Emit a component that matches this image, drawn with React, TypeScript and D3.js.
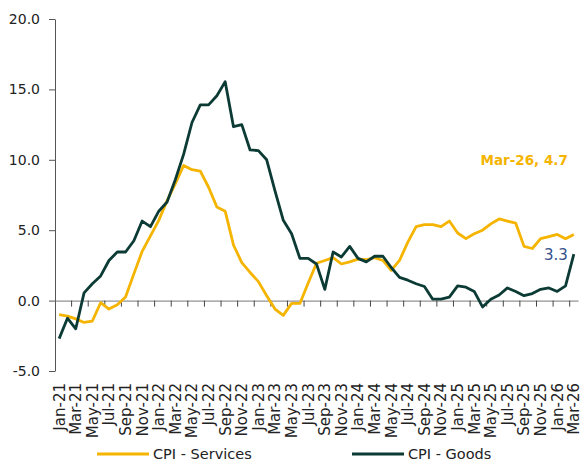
import React, { useEffect, useRef } from "react";
import * as d3 from "d3";

const months = [
  "Jan-21", "Feb-21", "Mar-21", "Apr-21", "May-21", "Jun-21", "Jul-21", "Aug-21", "Sep-21", "Oct-21", "Nov-21", "Dec-21",
  "Jan-22", "Feb-22", "Mar-22", "Apr-22", "May-22", "Jun-22", "Jul-22", "Aug-22", "Sep-22", "Oct-22", "Nov-22", "Dec-22",
  "Jan-23", "Feb-23", "Mar-23", "Apr-23", "May-23", "Jun-23", "Jul-23", "Aug-23", "Sep-23", "Oct-23", "Nov-23", "Dec-23",
  "Jan-24", "Feb-24", "Mar-24", "Apr-24", "May-24", "Jun-24", "Jul-24", "Aug-24", "Sep-24", "Oct-24", "Nov-24", "Dec-24",
  "Jan-25", "Feb-25", "Mar-25", "Apr-25", "May-25", "Jun-25", "Jul-25", "Aug-25", "Sep-25", "Oct-25", "Nov-25", "Dec-25",
  "Jan-26", "Feb-26", "Mar-26",
];

const services = [
  -1.0, -1.1, -1.3, -1.55, -1.45, -0.15, -0.6, -0.3, 0.25, 1.9, 3.5, 4.6,
  5.7, 7.1, 8.3, 9.6, 9.3, 9.2, 8.05, 6.65, 6.35, 3.95, 2.7, 2.0,
  1.35, 0.35, -0.6, -1.05, -0.2, -0.2, 1.25, 2.65, 2.85, 3.05, 2.6, 2.75,
  2.95, 2.9, 3.05, 2.85, 2.15, 2.85, 4.15, 5.25, 5.4, 5.4, 5.25, 5.65,
  4.8, 4.4, 4.75, 5.0, 5.45, 5.8, 5.65, 5.5, 3.85, 3.7, 4.4, 4.55,
  4.7, 4.4, 4.7,
];

const goods = [
  -2.7, -1.25, -2.0, 0.55, 1.2, 1.75, 2.85, 3.45, 3.45, 4.25, 5.65, 5.25,
  6.35, 7.0, 8.6, 10.4, 12.65, 13.9, 13.9, 14.55, 15.55, 12.35, 12.5, 10.7,
  10.65, 10.0, 7.8, 5.7, 4.75, 3.0, 3.0, 2.6, 0.8, 3.45, 3.1, 3.85,
  3.0, 2.75, 3.15, 3.15, 2.35, 1.65, 1.45, 1.2, 1.0, 0.1, 0.1, 0.25,
  1.05, 0.95, 0.65, -0.45, 0.1, 0.4, 0.9, 0.65, 0.35, 0.5, 0.8, 0.9,
  0.65, 1.05, 3.3,
];

const yTicks = [-5, 0, 5, 10, 15, 20];

const GOLD = "#f5b400";
const DARK = "#0c3b35";
const FONT = "DejaVu Sans, sans-serif";

const App: React.FC = () => {
  const svgRef = useRef<SVGSVGElement>(null);

  useEffect(() => {
    if (!svgRef.current) return;
    const width = 582;
    const height = 463;
    const margin = { top: 19, right: 4, bottom: 92, left: 55 };

    const svg = d3.select(svgRef.current).attr("width", width).attr("height", height);
    svg.selectAll("*").remove();

    const x = d3
      .scaleBand<string>()
      .domain(months)
      .range([margin.left, width - margin.right])
      .paddingInner(0)
      .paddingOuter(0);
    const cx = (m: string) => (x(m) || 0) + x.bandwidth() / 2;

    const y = d3
      .scaleLinear()
      .domain([-5, 20])
      .range([height - margin.bottom, margin.top]);

    // y axis
    const yAxis = svg
      .append("g")
      .attr("transform", `translate(${margin.left},0)`)
      .call(
        d3
          .axisLeft(y)
          .tickValues(yTicks)
          .tickSize(6)
          .tickSizeOuter(0)
          .tickFormat((d) => (d as number).toFixed(1))
      );
    yAxis.select(".domain").attr("stroke", "#555");
    yAxis.selectAll(".tick line").attr("stroke", "#555");
    yAxis
      .selectAll(".tick text")
      .attr("fill", "#222")
      .attr("font-family", FONT)
      .attr("font-size", 14)
      .attr("x", -15);

    // zero line with category ticks
    const zeroAxis = svg
      .append("g")
      .attr("transform", `translate(0,${y(0)})`)
      .call(
        d3
          .axisBottom(x)
          .tickValues(months.filter((_, i) => i > 0 && i % 2 === 0))
          .tickSize(6)
          .tickSizeOuter(0)
          .tickFormat(() => "")
      );
    zeroAxis.select(".domain").attr("stroke", "#777");
    zeroAxis
      .selectAll(".tick")
      .attr("transform", (d) => `translate(${x(d as string)},0)`);
    zeroAxis.selectAll(".tick line").attr("stroke", "#444");

    // category labels at bottom
    svg
      .append("g")
      .selectAll("text")
      .data(months.filter((_, i) => i % 2 === 0))
      .join("text")
      .attr("transform", (d) => `translate(${cx(d)},${383}) rotate(-90)`)
      .attr("text-anchor", "end")
      .attr("dy", "0.36em")
      .attr("font-family", FONT)
      .attr("font-size", 15)
      .attr("fill", "#222")
      .text((d) => d);

    const line = d3
      .line<number>()
      .x((_, i) => cx(months[i]))
      .y((d) => y(d));

    svg
      .append("path")
      .datum(services)
      .attr("fill", "none")
      .attr("stroke", GOLD)
      .attr("stroke-width", 2.8)
      .attr("stroke-linejoin", "round")
      .attr("d", line);

    svg
      .append("path")
      .datum(goods)
      .attr("fill", "none")
      .attr("stroke", DARK)
      .attr("stroke-width", 2.8)
      .attr("stroke-linejoin", "round")
      .attr("d", line);

    // end labels
    const last = months.length - 1;
    svg
      .append("text")
      .attr("x", cx(months[last]) - 6)
      .attr("y", y(services[last]) - 69)
      .attr("text-anchor", "end")
      .attr("font-family", FONT)
      .attr("font-size", 13.5)
      .attr("font-weight", 600)
      .attr("fill", GOLD)
      .text(`${months[last]}, ${services[last]}`);

    svg
      .append("text")
      .attr("x", cx(months[last]) - 6)
      .attr("y", y(goods[last]) + 6)
      .attr("text-anchor", "end")
      .attr("font-family", FONT)
      .attr("font-size", 15)
      .attr("fill", "#34508a")
      .text(`${goods[last]}`);

    // legend
    const legend = [
      { name: "CPI - Services", color: GOLD, x0: 97 },
      { name: "CPI - Goods", color: DARK, x0: 352 },
    ];
    const lg = svg.append("g").attr("transform", `translate(0,454)`);
    legend.forEach((l) => {
      lg.append("line")
        .attr("x1", l.x0)
        .attr("x2", l.x0 + 52)
        .attr("stroke", l.color)
        .attr("stroke-width", 2.8);
      lg.append("text")
        .attr("x", l.x0 + 56)
        .attr("dy", "0.36em")
        .attr("font-family", FONT)
        .attr("font-size", 14.5)
        .attr("fill", "#222")
        .text(l.name);
    });
  }, []);

  return (
    <div style={{ position: "absolute", left: 0, top: 0 }}>
      <svg ref={svgRef}></svg>
    </div>
  );
};

export default App;
